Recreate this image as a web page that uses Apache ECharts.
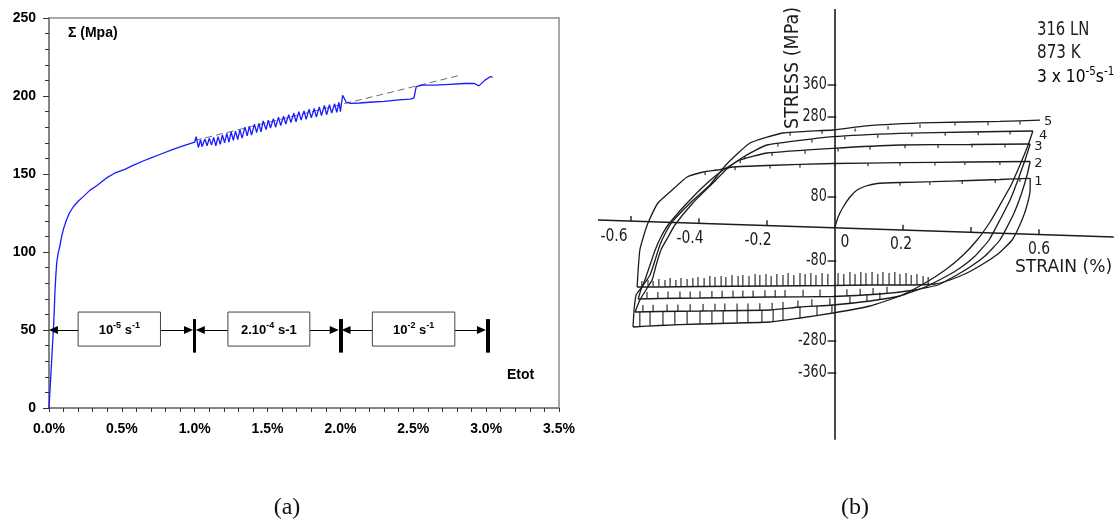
<!DOCTYPE html>
<html><head><meta charset="utf-8">
<script src="https://cdn.jsdelivr.net/npm/echarts@6/dist/echarts.min.js"></script>
<style>html,body{margin:0;padding:0;background:#fff}#c{width:1119px;height:521px}</style>
</head><body><div id="c"></div>
<script>
// ================= Panel (a) data =================
const strainA = [0,0.005,0.012,0.018,0.025,0.03,0.036,0.041,0.047,0.053,0.062,0.075,0.087,0.10,0.12,0.14,0.167,0.20,0.235,0.28,0.327,0.395,0.45,0.52,0.577,0.65,0.692,0.76,0.851,0.92,1.0,
1.01,1.025,1.04,1.05,1.07,1.085,1.10,1.115,1.13,1.145,1.16,1.175,1.19,1.205,1.22,1.235,1.25,1.265,1.28,1.295,1.31,1.325,1.345,1.36,1.375,1.39,1.41,1.425,1.44,1.455,1.47,1.49,1.505,1.52,1.54,1.555,1.575,1.59,1.61,1.625,1.645,1.66,1.68,1.695,1.715,1.73,1.75,1.765,1.785,1.80,1.82,1.835,1.855,1.87,1.89,1.905,1.925,1.94,1.96,1.975,1.99,2.00,
2.015,2.04,2.07,2.13,2.2,2.3,2.4,2.48,2.505,2.515,2.52,2.56,2.65,2.75,2.85,2.92,2.95,2.99,3.03,3.045];
const stressA = [0,8,20,30,42,50,62,75,85,93,99,104,110,115,120.5,125,129,132.5,135.5,139.5,142.5,147.5,150.5,153,155.5,158.5,160,162.5,165.8,168,170.5,
174,167,172,167.5,172.5,168,173,168.5,173.5,168,174,169,175,170,176,170.5,177,171.5,177.5,172,178.5,173,180,174.5,180.5,175,182,176.5,182.5,177,184,178.5,184.5,179.5,185.5,180,186.5,181,187,182,188,183,189,183.5,190,184.5,190.5,185,191.5,186,192,186.5,193,187.5,194,188,194.5,189,195,189.5,196,190,
200.5,196,195.3,195.5,196,196.5,197.5,198,198.8,199.5,206,207,207,207.5,208,208,206.5,210,212.5,212];
const trendStrain = [1.0, 2.83];
const trendStress = [171.5, 213.5];
const xTickLabelsA = ['0.0%','0.5%','1.0%','1.5%','2.0%','2.5%','3.0%','3.5%'];
const rateRanges = [[0,1],[1,2],[2,3.01]];
const rateBoxes = [[0.2,0.765],[1.228,1.79],[2.219,2.785]];
const rateTexts = ['{n|10}{s|-5}{n| s}{s|-1}','{n|2.10}{s|-4}{n| s-1}','{n|10}{s|-2}{n| s}{s|-1}'];

// ================= Panel (b) data (strain %, stress MPa) =================
const load1 = [[0,5],[0.009,30],[0.024,55],[0.044,80],[0.065,97.5],[0.091,107.5],[0.124,113.75],[0.191,116.25],[0.288,118.25],[0.397,121.25],[0.485,123.75],[0.574,126.75]];
const unload1 = [[0.574,126.75],[0.574,97.5],[0.565,60],[0.550,22.5],[0.521,-27.5],[0.479,-62.5],[0.435,-87.5],[0.388,-110],[0.338,-127.5],[0.294,-137.5],[0.191,-140],[0.103,-140],[-0.006,-141.25],[-0.191,-142.5],[-0.397,-143.75],[-0.515,-145],[-0.582,-145]];
const reload2 = [[-0.582,-145],[-0.579,-102.5],[-0.574,-52.5],[-0.562,-15],[-0.550,15],[-0.521,65],[-0.479,97.5],[-0.435,130],[-0.388,142.5],[-0.347,147.5],[-0.3,155],[-0.2,158.75],[-0.006,163.75],[0.191,165.75],[0.397,167.5],[0.574,168.75]];
const unload2 = [[0.574,168.75],[0.565,135],[0.547,85],[0.524,35],[0.485,-27.5],[0.441,-67.5],[0.397,-95],[0.353,-117.5],[0.303,-140],[0.235,-152.5],[0.132,-162.5],[-0.006,-168.75],[-0.191,-170],[-0.397,-172.5],[-0.515,-173.75],[-0.579,-175]];
const reload3 = [[-0.579,-175],[-0.571,-152.5],[-0.559,-127.5],[-0.544,-90],[-0.529,-52.5],[-0.512,-20],[-0.491,10],[-0.435,65],[-0.376,115],[-0.329,147.5],[-0.279,172.5],[-0.2,190],[-0.006,201.75],[0.191,210],[0.397,211.25],[0.574,212.5]];
const unload3 = [[0.574,212.5],[0.559,172.5],[0.538,122.5],[0.515,72.5],[0.485,22.5],[0.453,-27.5],[0.412,-67.5],[0.368,-97.5],[0.329,-117.5],[0.265,-145],[0.191,-167.5],[0.103,-180],[-0.006,-190],[-0.103,-195],[-0.191,-202.5],[-0.397,-205],[-0.515,-206.25],[-0.588,-207.5]];
const reload4 = [[-0.588,-207.5],[-0.574,-177.5],[-0.556,-152.5],[-0.538,-127.5],[-0.526,-90],[-0.512,-52.5],[-0.491,-20],[-0.471,10],[-0.418,65],[-0.359,115],[-0.315,152.5],[-0.265,182.5],[-0.2,210],[-0.006,230.75],[0.191,239.25],[0.397,242.5],[0.582,245]];
const unload4 = [[0.582,245],[0.568,210],[0.544,160],[0.518,110],[0.485,60],[0.456,17.5],[0.418,-27.5],[0.374,-67.5],[0.324,-102.5],[0.265,-135],[0.191,-167.5],[0.103,-192.5],[-0.006,-210],[-0.103,-222.5],[-0.191,-232.5],[-0.397,-237.5],[-0.515,-241.25],[-0.594,-245]];
const reload5 = [[-0.594,-245],[-0.591,-202.5],[-0.585,-165],[-0.568,-145],[-0.544,-115],[-0.529,-77.5],[-0.515,-40],[-0.497,-7.5],[-0.479,17.5],[-0.426,65],[-0.368,110],[-0.321,160],[-0.25,215],[-0.153,240],[-0.006,247.5],[0.091,258],[0.288,265.75],[0.485,269],[0.603,272]];
const cycleLabels = ['1','2','3','4','5'];
// serration marks on compressive branches: [strain, base stress, tip stress]
const teeth1 = [[-0.568,-144,-130],[-0.550,-144,-127.5],[-0.535,-144,-130],[-0.518,-144,-125],[-0.500,-144,-127.5],[-0.485,-144,-122.5],[-0.468,-144,-127.5],[-0.453,-144,-122.5],[-0.435,-144,-125],[-0.418,-144,-122.5],[-0.403,-143,-120],[-0.385,-143,-122.5],[-0.368,-143,-117.5],[-0.353,-143,-120],[-0.335,-143,-117.5],[-0.321,-143,-120],[-0.303,-143,-115],[-0.285,-143,-117.5],[-0.271,-143,-115],[-0.253,-143,-117.5],[-0.235,-143,-112.5],[-0.221,-143,-115],[-0.203,-142,-112.5],[-0.188,-142,-117.5],[-0.171,-142,-112.5],[-0.153,-142,-115],[-0.138,-142,-110],[-0.121,-142,-115],[-0.103,-141.5,-110],[-0.088,-141.5,-112.5],[-0.071,-141.5,-110],[-0.056,-141.5,-115],[-0.038,-141.5,-110],[-0.021,-141.5,-112.5],[0.009,-141,-110],[0.026,-141,-112.5],[0.044,-141,-107.5],[0.059,-141,-112.5],[0.076,-140.5,-107.5],[0.091,-140.5,-110],[0.109,-140,-107.5],[0.126,-140,-112.5],[0.141,-140,-107.5],[0.159,-140,-110],[0.176,-140,-107.5],[0.191,-140,-112.5],[0.209,-139.5,-110],[0.224,-139.5,-115],[0.241,-139,-112.5],[0.259,-138.5,-117.5],[0.274,-138,-120]];
const teeth2 = [[-0.553,-175,-157.5],[-0.521,-175,-157.5],[-0.491,-174,-156.5],[-0.456,-174,-156.5],[-0.426,-173.5,-156],[-0.397,-173,-155.5],[-0.362,-172.5,-155],[-0.332,-172,-154.5],[-0.300,-171.5,-154],[-0.271,-171,-153.5],[-0.241,-171,-153.5],[-0.206,-170.5,-153],[-0.176,-170,-152.5],[-0.147,-170,-152.5],[-0.094,-169.5,-152],[-0.044,-169,-151.5],[0.035,-168,-150.5],[0.074,-167,-149.5],[0.112,-165,-147.5],[0.153,-162,-144.5]];
const teeth3 = [[-0.565,-207.5,-190],[-0.535,-207,-189.5],[-0.494,-206.5,-189],[-0.462,-206,-188.5],[-0.426,-205.5,-188],[-0.388,-205,-187.5],[-0.353,-204.5,-187],[-0.324,-204,-186.5],[-0.288,-204,-186.5],[-0.256,-203.5,-186],[-0.221,-203,-185.5],[-0.185,-202,-184.5],[-0.153,-200,-182.5],[-0.109,-196,-178.5],[-0.068,-193,-175.5],[-0.015,-190.5,-173],[0.044,-186,-168.5],[0.094,-181,-163.5],[0.132,-176,-158.5]];
const teeth4 = [[-0.574,-244,-207.5],[-0.544,-242.5,-207],[-0.506,-241,-206.5],[-0.471,-240,-206],[-0.435,-239,-205.5],[-0.397,-237.5,-205],[-0.362,-236.5,-204.5],[-0.329,-235.5,-204],[-0.288,-234.5,-204],[-0.256,-234,-203.5],[-0.215,-233,-203],[-0.182,-231.5,-202],[-0.153,-229,-199.5],[-0.103,-222.5,-195],[-0.053,-216,-192],[-0.009,-211,-190]];
// small notches on tensile branches: [strain, stress on branch, notch bottom]
const notches = [[0.191,116.25,108],[0.279,118,110],[0.374,120.5,112.5],[0.471,123,115],[0.544,125.5,117.5],
[-0.382,143,135],[-0.294,155,147],[-0.191,159,151],[-0.103,161,153],[0,163.75,156],[0.097,164.8,157],[0.191,165.75,158],[0.294,166.6,159],[0.382,167.4,160],[0.485,168,160],
[-0.279,172.5,164.5],[-0.185,190.5,182.5],[-0.088,196,188],[0.009,202,194],[0.103,206,198],[0.206,210,202],[0.303,210.6,202.5],[0.403,211.3,203.5],[0.5,212,204],
[-0.265,182.5,174.5],[-0.168,214,206],[-0.068,224,216],[0.029,231.5,223.5],[0.126,235.5,227.5],[0.226,239.5,231.5],[0.324,241,233],[0.421,242.6,234.5],[0.515,244,236],
[-0.132,241,233],[-0.038,246,238],[0.059,251.5,243.5],[0.156,257,249],[0.25,261,253],[0.353,266.5,258.5],[0.45,267.5,259.5],[0.544,269.5,261.5]];
const xTickValsB = [-0.6,-0.4,-0.2,0.2,0.4,0.6];
const xLabelValsB = [-0.6,-0.4,-0.2,0,0.2,0.6];
const xLabelTextB = ['-0.6','-0.4','-0.2','0','0.2','0.6'];
const yTickValsB = [360,280,80,-80,-280,-360];
const yLabelTextB = ['360','280','80','-80','-280','-360'];
// axes of the scanned plot (it is slightly tilted)
const axisXB = [[-0.697,22.5],[0.82,-20]];
const axisYB = [[0,550],[0,-527]];

// ================= build =================
const FA = "'Liberation Sans', Arial, sans-serif";
const FB = "'DejaVu Sans', sans-serif";
const INK = '#1c1c1c';
const zip = (a,b)=>a.map((v,i)=>[v,b[i]]);
const axisStressB = e => axisXB[0][1] + (e-axisXB[0][0])*(axisXB[1][1]-axisXB[0][1])/(axisXB[1][0]-axisXB[0][0]);

const chart = echarts.init(document.getElementById('c'));

const dA = 4*3.5/510;   // half arrow length in strain units
const ml = [];
rateRanges.forEach((r,i)=>{
  const box = rateBoxes[i];
  const tipL = r[0] + (i===0 ? 0.003 : 0.011);
  const tipR = r[1] - 0.015;
  ml.push([{coord:[tipL+dA,50],symbol:'triangle',symbolSize:[8,9]},{coord:[box[0],50],symbol:'none'}]);
  ml.push([{coord:[box[1],50],symbol:'none'},{coord:[tipR-dA,50],symbol:'triangle',symbolSize:[8,9]}]);
  ml.push([{coord:[r[1],35.5],symbol:'none',lineStyle:{width:i===0?3:4,color:'#000'}},{coord:[r[1],57],symbol:'none'}]);
});

function segSeries(rows, xi, yi, color, width){
  return {type:'custom', xAxisIndex:xi, yAxisIndex:yi, silent:true, clip:false,
    encode:{x:[0,2], y:[1,3]}, data: rows,
    renderItem:(p,api)=>{
      const a = api.coord([api.value(0),api.value(1)]);
      const b = api.coord([api.value(2),api.value(3)]);
      return {type:'line', shape:{x1:a[0],y1:a[1],x2:b[0],y2:b[1]}, style:{stroke:color,lineWidth:width}};
    }};
}
const teethRows = [].concat(teeth1,teeth2,teeth3,teeth4,notches).map(t=>[t[0],t[1],t[0],t[2]]);
const tickRowsB = xTickValsB.map(v=>[v,axisStressB(v),v,axisStressB(v)+13])
  .concat(yTickValsB.map(v=>[-0.022,v,0.004,v]));

function textSeries(rows, texts, font, align, sx, dx, dy){
  return {type:'custom', xAxisIndex:1, yAxisIndex:2, silent:true, clip:false, data: rows,
    renderItem:(p,api)=>{
      const c = api.coord([api.value(0),api.value(1)]);
      const i = api.value(2);
      return {type:'text', x:c[0]+dx[i], y:c[1]+dy, scaleX:sx, style:{text:texts[i], font, fill:INK, align, verticalAlign:'middle'}};
    }};
}

function curveB(data, label, off){
  const s = {type:'line', xAxisIndex:1, yAxisIndex:2, data, symbol:'none', silent:true, smooth:0.15,
    lineStyle:{color:INK,width:1.3}, z:3};
  if(label){ s.endLabel = {show:true, formatter:label, distance:4, offset:off||[0,2], color:INK, fontSize:13, fontFamily:FB}; }
  return s;
}

const richA = {
  n:{fontSize:13,fontWeight:'bold',fontFamily:FA,color:'#000',lineHeight:18,verticalAlign:'middle'},
  s:{fontSize:9,fontWeight:'bold',fontFamily:FA,color:'#000',lineHeight:18,verticalAlign:'top'}
};

const option = {
  animation:false,
  backgroundColor:'#fff',
  grid:[
    {left:49, top:18, width:510, height:390, show:true, borderColor:'#8a8a8a', borderWidth:1.5, backgroundColor:'transparent'},
    {left:597, top:5, width:516.8, height:440}
  ],
  xAxis:[
    {type:'value', gridIndex:0, min:0, max:3.5, interval:0.5,
     axisLine:{lineStyle:{color:'#7a7a7a',width:1.5}},
     axisTick:{length:4, lineStyle:{color:'#333'}},
     axisLabel:{margin:14, fontSize:14, fontWeight:'bold', color:'#000', fontFamily:FA,
       formatter:(v)=>xTickLabelsA[Math.round(v/0.5)]},
     splitLine:{show:false}},
    {type:'value', gridIndex:1, min:-0.7, max:0.82, show:false},
    {type:'value', gridIndex:0, min:0, max:3.5, interval:0.1, axisLine:{show:false},
     axisTick:{inside:true, length:4, lineStyle:{color:'#333'}}, axisLabel:{show:false}, splitLine:{show:false}}
  ],
  yAxis:[
    {type:'value', gridIndex:0, min:0, max:250, interval:50,
     axisLine:{show:true, lineStyle:{color:'#7a7a7a',width:1.5}},
     axisTick:{show:true, length:6, lineStyle:{color:'#333'}},
     axisLabel:{margin:13, fontSize:14, fontWeight:'bold', color:'#000', fontFamily:FA},
     splitLine:{show:false}},
    {type:'value', gridIndex:0, min:0, max:250, interval:10, axisLine:{show:false},
     axisTick:{show:true, inside:true, length:4, lineStyle:{color:'#333'}}, axisLabel:{show:false}, splitLine:{show:false}},
    {type:'value', gridIndex:1, min:-540, max:560, show:false}
  ],
  graphic:[
    {type:'text', left:68, top:26, style:{text:'Σ (Mpa)', font:'bold 14px '+FA, fill:'#000'}},
    {type:'text', left:507, top:368, style:{text:'Etot', font:'bold 14px '+FA, fill:'#000'}},
    {type:'text', x:793, y:68, rotation:Math.PI/2, scaleX:0.92, style:{text:'STRESS (MPa)', font:'19px '+FB, fill:INK, align:'center', verticalAlign:'middle'}},
    {type:'text', x:1037, y:30, scaleX:0.78, style:{text:'316 LN', font:'19px '+FB, fill:INK, verticalAlign:'middle'}},
    {type:'text', x:1037, y:53, scaleX:0.8, style:{text:'873 K', font:'19px '+FB, fill:INK, verticalAlign:'middle'}},
    {type:'text', x:1037, y:77, scaleX:0.86, style:{text:'{n|3 x 10}{s|-5}{n|s}{s|-1}', verticalAlign:'middle',
      rich:{n:{fontSize:18,fontFamily:FB,color:INK,lineHeight:22,verticalAlign:'middle'},
            s:{fontSize:12,fontFamily:FB,color:INK,lineHeight:22,verticalAlign:'top'}}}},
    {type:'text', x:1015, y:267, scaleX:0.95, style:{text:'STRAIN (%)', font:'18px '+FB, fill:INK, verticalAlign:'middle'}},
    {type:'text', x:287, y:508, style:{text:'(a)', font:'24px "Liberation Serif", serif', fill:'#111', align:'center', verticalAlign:'middle'}},
    {type:'text', x:855, y:508, style:{text:'(b)', font:'24px "Liberation Serif", serif', fill:'#111', align:'center', verticalAlign:'middle'}}
  ],
  series:[
    // ---- panel a ----
    {type:'line', xAxisIndex:0, yAxisIndex:0, data:zip(trendStrain,trendStress), symbol:'none', silent:true,
     lineStyle:{color:'#707070', width:1, type:[7,4]}, z:2},
    {type:'line', xAxisIndex:0, yAxisIndex:0, data:zip(strainA,stressA), symbol:'none', silent:true,
     lineStyle:{color:'#1a1aff', width:1.3}, z:3},
    {type:'line', xAxisIndex:0, yAxisIndex:0, data:[], silent:true,
     markLine:{silent:true, symbol:['none','none'], label:{show:false}, animation:false,
       lineStyle:{color:'#000', width:1, type:'solid'}, itemStyle:{color:'#000'}, emphasis:{disabled:true}, data:ml}},
    {type:'custom', xAxisIndex:0, yAxisIndex:0, silent:true, clip:false, z:5,
     data: rateBoxes.map((b,i)=>[b[0],b[1],39.7,61.5,i]),
     renderItem:(p,api)=>{
       const a = api.coord([api.value(0),api.value(3)]);
       const b = api.coord([api.value(1),api.value(2)]);
       const i = api.value(4);
       return {type:'group', children:[
         {type:'rect', shape:{x:a[0],y:a[1],width:b[0]-a[0],height:b[1]-a[1]}, style:{fill:'#fff',stroke:'#444',lineWidth:1}},
         {type:'text', style:{text:rateTexts[i], rich:richA, x:(a[0]+b[0])/2, y:(a[1]+b[1])/2+1, align:'center', verticalAlign:'middle'}}
       ]};
     }},
    // ---- panel b ----
    segSeries([[axisXB[0][0],axisXB[0][1],axisXB[1][0],axisXB[1][1]],[axisYB[0][0],axisYB[0][1],axisYB[1][0],axisYB[1][1]]],1,2,INK,1.6),
    segSeries(tickRowsB,1,2,INK,1.4),
    segSeries(teethRows,1,2,INK,1.1),
    curveB(load1, cycleLabels[0], [0,3]),
    curveB(unload1),
    curveB(reload2, cycleLabels[1], [0,2]),
    curveB(unload2),
    curveB(reload3, cycleLabels[2], [0,3]),
    curveB(unload3),
    curveB(reload4, cycleLabels[3], [2,5]),
    curveB(unload4),
    curveB(reload5, cycleLabels[4], [0,1]),
    textSeries(xLabelValsB.map((v,i)=>[v, axisStressB(v), i]), xLabelTextB, '17px '+FB, 'center', 0.82, [-17,-9,-9,10,-2,0], 15),
    textSeries(yTickValsB.map((v,i)=>[-0.024, v, i]), yLabelTextB, '17px '+FB, 'right', 0.75, [0,0,0,0,0,0], 0)
  ]
};
chart.setOption(option);
</script></body></html>
